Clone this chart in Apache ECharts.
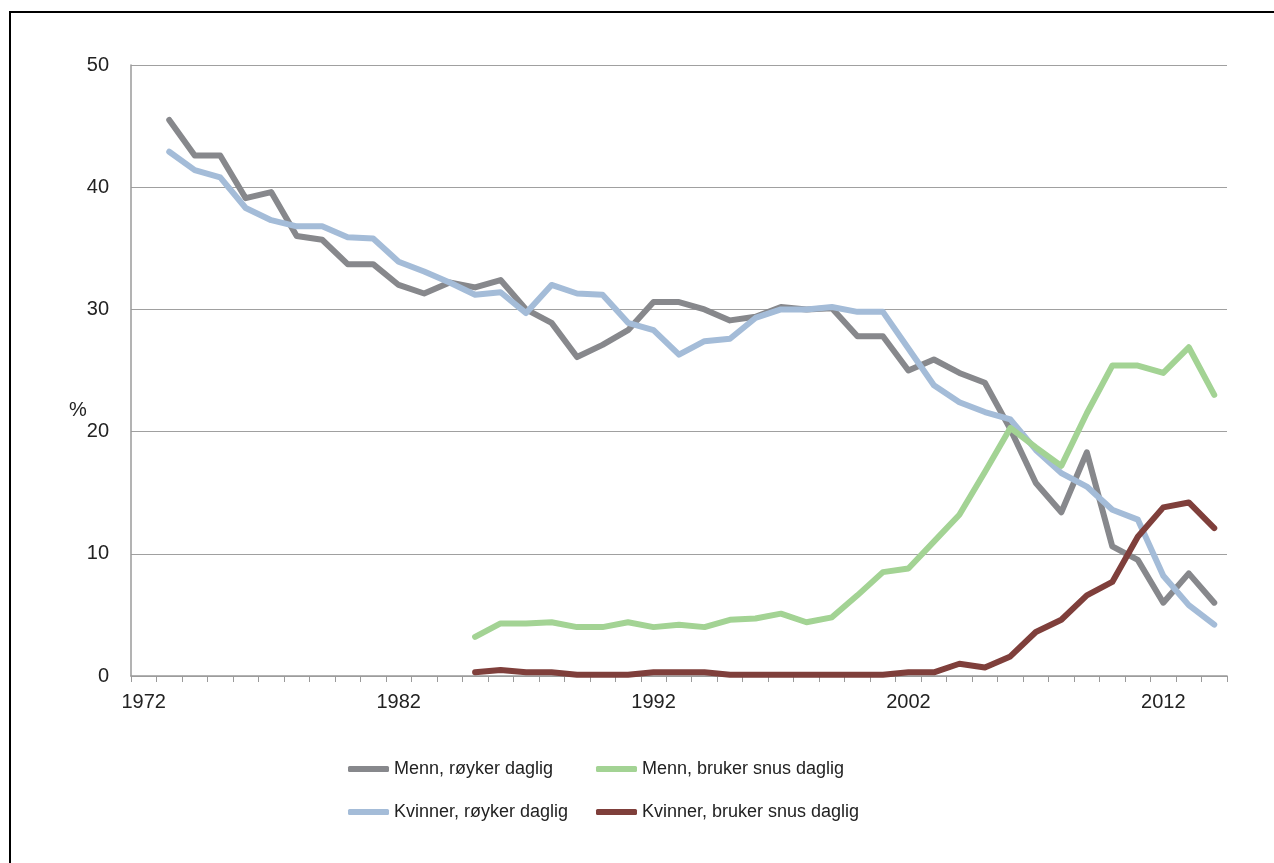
<!DOCTYPE html>
<html>
<head>
<meta charset="utf-8">
<script src="https://cdn.jsdelivr.net/npm/echarts@6/dist/echarts.min.js"></script>
<style>
  html, body { margin: 0; padding: 0; background: #fff; }
  #chart { width: 1274px; height: 863px; }
</style>
</head>
<body>
<div id="chart"></div>
<script>
const years = [];
for (let y = 1972; y <= 2014; y++) years.push(String(y));

// 1972..2014
const mennRoyker = [null,
  45.5, 42.6, 42.6, 39.1, 39.6, 36.0, 35.7, 33.7, 33.7, 32.0,
  31.3, 32.2, 31.8, 32.4, 30.0, 28.9, 26.1, 27.1, 28.3, 30.6,
  30.6, 30.0, 29.1, 29.4, 30.2, 30.0, 30.1, 27.8, 27.8, 25.0,
  25.9, 24.8, 24.0, 20.2, 15.8, 13.4, 18.3, 10.6, 9.5, 6.0,
  8.4, 6.0];
const kvinnerRoyker = [null,
  42.9, 41.4, 40.8, 38.3, 37.3, 36.8, 36.8, 35.9, 35.8, 33.9,
  33.1, 32.2, 31.2, 31.4, 29.7, 32.0, 31.3, 31.2, 28.9, 28.3,
  26.3, 27.4, 27.6, 29.3, 30.0, 30.0, 30.2, 29.8, 29.8, 26.8,
  23.8, 22.4, 21.6, 21.0, 18.5, 16.6, 15.5, 13.6, 12.8, 8.2,
  5.8, 4.2];
const mennSnus = [null, null, null, null, null, null, null, null, null, null, null, null, null,
  3.2, 4.3, 4.3, 4.4, 4.0, 4.0, 4.4, 4.0, 4.2, 4.0,
  4.6, 4.7, 5.1, 4.4, 4.8, 6.6, 8.5, 8.8, 11.0, 13.2,
  16.7, 20.3, 18.7, 17.2, 21.5, 25.4, 25.4, 24.8, 26.9, 23.0];
const kvinnerSnus = [null, null, null, null, null, null, null, null, null, null, null, null, null,
  0.3, 0.5, 0.3, 0.3, 0.1, 0.1, 0.1, 0.3, 0.3, 0.3,
  0.1, 0.1, 0.1, 0.1, 0.1, 0.1, 0.1, 0.3, 0.3, 1.0,
  0.7, 1.6, 3.6, 4.6, 6.6, 7.7, 11.4, 13.8, 14.2, 12.1];

const names = [
  "Menn, røyker daglig",
  "Kvinner, røyker daglig",
  "Menn, bruker snus daglig",
  "Kvinner, bruker snus daglig"
];
const colors = ["#87888c", "#a4bcd8", "#a3d394", "#7f3f3b"];

const chart = echarts.init(document.getElementById("chart"));

function lineSeries(name, data, color) {
  return {
    name: name,
    type: "line",
    data: data,
    showSymbol: false,
    symbol: "none",
    color: color,
    lineStyle: { width: 6, color: color, cap: "round", join: "round" },
    emphasis: { disabled: true }
  };
}

const legendFont = {
  fontFamily: "'Liberation Sans', Arial, sans-serif",
  fontSize: 18,
  color: "#222"
};

const option = {
  backgroundColor: "#fff",
  animation: false,
  textStyle: { fontFamily: "'Liberation Sans', Arial, sans-serif" },
  grid: { left: 131, right: 47, top: 65, bottom: 187 },
  graphic: [
    {
      type: "rect",
      shape: { x: 10, y: 12, width: 1300, height: 900 },
      style: { fill: "none", stroke: "#000", lineWidth: 2 },
      z: -1
    },
    {
      type: "text",
      left: 69,
      top: 400,
      style: { text: "%", fontSize: 20, fill: "#222", fontFamily: "'Liberation Sans', Arial, sans-serif" }
    }
  ],
  legend: [
    {
      data: [names[0], names[1]],
      orient: "vertical",
      left: 343,
      top: 755,
      itemWidth: 41,
      itemHeight: 6,
      itemGap: 25,
      icon: "roundRect",
      textStyle: legendFont
    },
    {
      data: [names[2], names[3]],
      orient: "vertical",
      left: 591,
      top: 755,
      itemWidth: 41,
      itemHeight: 6,
      itemGap: 25,
      icon: "roundRect",
      textStyle: legendFont
    }
  ],
  xAxis: {
    type: "category",
    data: years,
    boundaryGap: true,
    axisLine: { lineStyle: { color: "#9a9a9a", width: 1.5 } },
    axisTick: { show: true, interval: 0, length: 6, lineStyle: { color: "#9a9a9a" } },
    axisLabel: { interval: 9, fontSize: 20, color: "#222", margin: 16 },
    splitLine: { show: false }
  },
  yAxis: {
    type: "value",
    min: 0,
    max: 50,
    interval: 10,
    axisLine: { show: true, lineStyle: { color: "#9a9a9a", width: 1.5 } },
    axisTick: { show: false },
    axisLabel: { fontSize: 20, color: "#222", margin: 22 },
    splitLine: { lineStyle: { color: "#a0a0a0", width: 1.2 } }
  },
  series: [
    lineSeries(names[0], mennRoyker, colors[0]),
    lineSeries(names[1], kvinnerRoyker, colors[1]),
    lineSeries(names[2], mennSnus, colors[2]),
    lineSeries(names[3], kvinnerSnus, colors[3])
  ]
};

chart.setOption(option);
</script>
</body>
</html>
